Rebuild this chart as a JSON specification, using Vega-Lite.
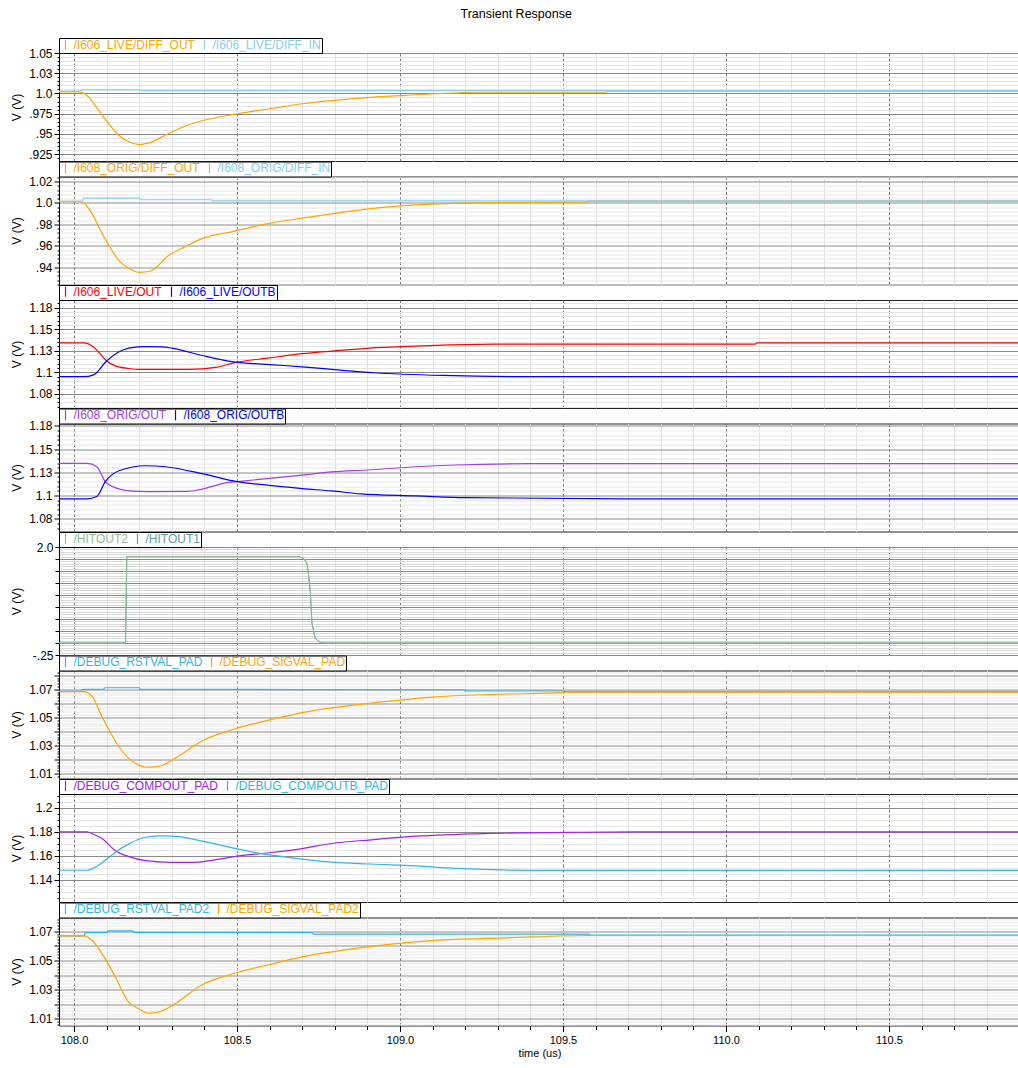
{
  "$schema": "https://vega.github.io/schema/vega-lite/v6.json",
  "padding": {"left": 9, "top": 7, "right": 0, "bottom": 2},
  "background": "white",
  "title": {"text": "Transient Response", "fontSize": 12.5, "fontWeight": "normal", "font": "Liberation Sans", "offset": 17, "anchor": "middle", "color": "#000"},
  "config": {
    "view": {"stroke": "#222", "strokeWidth": 1},
    "font": "Liberation Sans",
    "axis": {"labelFont": "Liberation Sans", "titleFont": "Liberation Sans", "labelFontSize": 12, "titleFontSize": 12, "titleFontWeight": "normal", "labelColor": "#000", "titleColor": "#000", "tickColor": "#000", "domainColor": "#000", "labelOverlap": false, "labelFlush": false, "gridOpacity": 1, "gridWidth": 1},
    "axisY": {"minExtent": 36, "maxExtent": 36, "titlePadding": 0, "labelPadding": 2, "domainWidth": 1},
    "legend": {"orient": "top", "direction": "horizontal", "offset": 0, "padding": 0.5, "fillColor": "white", "strokeColor": "#000", "labelFont": "Liberation Sans", "labelFontSize": 12, "symbolType": "M0,-1.7L0,1.7", "symbolSize": 36, "symbolStrokeWidth": 1, "labelOffset": 2, "columnPadding": 3, "labelLimit": 300},
    "line": {"strokeWidth": 1.2, "interpolate": "monotone", "clip": true}
  },
  "resolve": {"scale": {"color": "independent", "x": "independent", "y": "independent"}, "legend": {"color": "independent"}},
  "bounds": "flush",
  "spacing": 15.5,
  "datasets": {
    "p1": [
      {"s": "/I606_LIVE/DIFF_OUT", "t": 107.954, "v": 1.002}, {"s": "/I606_LIVE/DIFF_OUT", "t": 108.015, "v": 1.002}, {"s": "/I606_LIVE/DIFF_OUT", "t": 108.045, "v": 0.9955}, {"s": "/I606_LIVE/DIFF_OUT", "t": 108.076, "v": 0.979}, {"s": "/I606_LIVE/DIFF_OUT", "t": 108.106, "v": 0.9627}, {"s": "/I606_LIVE/DIFF_OUT", "t": 108.137, "v": 0.9484}, {"s": "/I606_LIVE/DIFF_OUT", "t": 108.168, "v": 0.9402}, {"s": "/I606_LIVE/DIFF_OUT", "t": 108.199, "v": 0.9368}, {"s": "/I606_LIVE/DIFF_OUT", "t": 108.23, "v": 0.9389}, {"s": "/I606_LIVE/DIFF_OUT", "t": 108.29, "v": 0.9504}, {"s": "/I606_LIVE/DIFF_OUT", "t": 108.34, "v": 0.9595}, {"s": "/I606_LIVE/DIFF_OUT", "t": 108.39, "v": 0.966}, {"s": "/I606_LIVE/DIFF_OUT", "t": 108.49, "v": 0.9742}, {"s": "/I606_LIVE/DIFF_OUT", "t": 108.6, "v": 0.9811}, {"s": "/I606_LIVE/DIFF_OUT", "t": 108.7, "v": 0.9873}, {"s": "/I606_LIVE/DIFF_OUT", "t": 108.8, "v": 0.9915}, {"s": "/I606_LIVE/DIFF_OUT", "t": 108.89, "v": 0.9946}, {"s": "/I606_LIVE/DIFF_OUT", "t": 109.015, "v": 0.9976}, {"s": "/I606_LIVE/DIFF_OUT", "t": 109.107, "v": 0.9996}, {"s": "/I606_LIVE/DIFF_OUT", "t": 109.24, "v": 1.0015}, {"s": "/I606_LIVE/DIFF_OUT", "t": 109.63, "v": 1.0015}, {"s": "/I606_LIVE/DIFF_OUT", "t": 109.64, "v": 1.0027}, {"s": "/I606_LIVE/DIFF_OUT", "t": 110.902, "v": 1.0027},
      {"s": "/I606_LIVE/DIFF_IN", "t": 107.954, "v": 1.003}, {"s": "/I606_LIVE/DIFF_IN", "t": 108.02, "v": 1.003}, {"s": "/I606_LIVE/DIFF_IN", "t": 108.025, "v": 1.0045}, {"s": "/I606_LIVE/DIFF_IN", "t": 108.2, "v": 1.0045}, {"s": "/I606_LIVE/DIFF_IN", "t": 108.205, "v": 1.0035}, {"s": "/I606_LIVE/DIFF_IN", "t": 110.902, "v": 1.0035}
    ],
    "p2": [
      {"s": "/I608_ORIG/DIFF_OUT", "t": 107.954, "v": 1.0015}, {"s": "/I608_ORIG/DIFF_OUT", "t": 108.02, "v": 1.0015}, {"s": "/I608_ORIG/DIFF_OUT", "t": 108.055, "v": 0.9903}, {"s": "/I608_ORIG/DIFF_OUT", "t": 108.08, "v": 0.975}, {"s": "/I608_ORIG/DIFF_OUT", "t": 108.107, "v": 0.9605}, {"s": "/I608_ORIG/DIFF_OUT", "t": 108.137, "v": 0.9465}, {"s": "/I608_ORIG/DIFF_OUT", "t": 108.168, "v": 0.939}, {"s": "/I608_ORIG/DIFF_OUT", "t": 108.2, "v": 0.9353}, {"s": "/I608_ORIG/DIFF_OUT", "t": 108.235, "v": 0.9365}, {"s": "/I608_ORIG/DIFF_OUT", "t": 108.29, "v": 0.951}, {"s": "/I608_ORIG/DIFF_OUT", "t": 108.34, "v": 0.959}, {"s": "/I608_ORIG/DIFF_OUT", "t": 108.39, "v": 0.9665}, {"s": "/I608_ORIG/DIFF_OUT", "t": 108.49, "v": 0.9735}, {"s": "/I608_ORIG/DIFF_OUT", "t": 108.6, "v": 0.981}, {"s": "/I608_ORIG/DIFF_OUT", "t": 108.7, "v": 0.9858}, {"s": "/I608_ORIG/DIFF_OUT", "t": 108.8, "v": 0.9903}, {"s": "/I608_ORIG/DIFF_OUT", "t": 108.945, "v": 0.9958}, {"s": "/I608_ORIG/DIFF_OUT", "t": 109.1, "v": 0.9989}, {"s": "/I608_ORIG/DIFF_OUT", "t": 109.28, "v": 1.0004}, {"s": "/I608_ORIG/DIFF_OUT", "t": 109.57, "v": 1.0008}, {"s": "/I608_ORIG/DIFF_OUT", "t": 109.58, "v": 1.0017}, {"s": "/I608_ORIG/DIFF_OUT", "t": 110.902, "v": 1.0017},
      {"s": "/I608_ORIG/DIFF_IN", "t": 107.954, "v": 1.0015}, {"s": "/I608_ORIG/DIFF_IN", "t": 108.025, "v": 1.0015}, {"s": "/I608_ORIG/DIFF_IN", "t": 108.03, "v": 1.0045}, {"s": "/I608_ORIG/DIFF_IN", "t": 108.2, "v": 1.0045}, {"s": "/I608_ORIG/DIFF_IN", "t": 108.205, "v": 1.003}, {"s": "/I608_ORIG/DIFF_IN", "t": 108.42, "v": 1.003}, {"s": "/I608_ORIG/DIFF_IN", "t": 108.425, "v": 1.002}, {"s": "/I608_ORIG/DIFF_IN", "t": 110.902, "v": 1.002}
    ],
    "p3": [
      {"s": "/I606_LIVE/OUT", "t": 107.954, "v": 1.1341}, {"s": "/I606_LIVE/OUT", "t": 108.03, "v": 1.1341}, {"s": "/I606_LIVE/OUT", "t": 108.06, "v": 1.1292}, {"s": "/I606_LIVE/OUT", "t": 108.08, "v": 1.1215}, {"s": "/I606_LIVE/OUT", "t": 108.1, "v": 1.1131}, {"s": "/I606_LIVE/OUT", "t": 108.127, "v": 1.1074}, {"s": "/I606_LIVE/OUT", "t": 108.168, "v": 1.1043}, {"s": "/I606_LIVE/OUT", "t": 108.2, "v": 1.1032}, {"s": "/I606_LIVE/OUT", "t": 108.35, "v": 1.1032}, {"s": "/I606_LIVE/OUT", "t": 108.44, "v": 1.106}, {"s": "/I606_LIVE/OUT", "t": 108.49, "v": 1.1109}, {"s": "/I606_LIVE/OUT", "t": 108.6, "v": 1.1166}, {"s": "/I606_LIVE/OUT", "t": 108.7, "v": 1.1215}, {"s": "/I606_LIVE/OUT", "t": 108.79, "v": 1.1245}, {"s": "/I606_LIVE/OUT", "t": 108.945, "v": 1.1288}, {"s": "/I606_LIVE/OUT", "t": 109.107, "v": 1.1311}, {"s": "/I606_LIVE/OUT", "t": 109.29, "v": 1.1326}, {"s": "/I606_LIVE/OUT", "t": 110.09, "v": 1.1326}, {"s": "/I606_LIVE/OUT", "t": 110.095, "v": 1.1341}, {"s": "/I606_LIVE/OUT", "t": 110.902, "v": 1.1341},
      {"s": "/I606_LIVE/OUTB", "t": 107.954, "v": 1.0948}, {"s": "/I606_LIVE/OUTB", "t": 108.03, "v": 1.0948}, {"s": "/I606_LIVE/OUTB", "t": 108.06, "v": 1.097}, {"s": "/I606_LIVE/OUTB", "t": 108.1, "v": 1.1131}, {"s": "/I606_LIVE/OUTB", "t": 108.137, "v": 1.1234}, {"s": "/I606_LIVE/OUTB", "t": 108.168, "v": 1.128}, {"s": "/I606_LIVE/OUTB", "t": 108.22, "v": 1.1297}, {"s": "/I606_LIVE/OUTB", "t": 108.27, "v": 1.1295}, {"s": "/I606_LIVE/OUTB", "t": 108.3, "v": 1.128}, {"s": "/I606_LIVE/OUTB", "t": 108.39, "v": 1.1197}, {"s": "/I606_LIVE/OUTB", "t": 108.49, "v": 1.112}, {"s": "/I606_LIVE/OUTB", "t": 108.6, "v": 1.1089}, {"s": "/I606_LIVE/OUTB", "t": 108.7, "v": 1.1063}, {"s": "/I606_LIVE/OUTB", "t": 108.8, "v": 1.103}, {"s": "/I606_LIVE/OUTB", "t": 108.92, "v": 1.0994}, {"s": "/I606_LIVE/OUTB", "t": 109.13, "v": 1.0963}, {"s": "/I606_LIVE/OUTB", "t": 109.44, "v": 1.0948}, {"s": "/I606_LIVE/OUTB", "t": 110.902, "v": 1.0948}
    ],
    "p4": [
      {"s": "/I608_ORIG/OUT", "t": 107.954, "v": 1.1346}, {"s": "/I608_ORIG/OUT", "t": 108.04, "v": 1.1346}, {"s": "/I608_ORIG/OUT", "t": 108.07, "v": 1.131}, {"s": "/I608_ORIG/OUT", "t": 108.096, "v": 1.115}, {"s": "/I608_ORIG/OUT", "t": 108.13, "v": 1.108}, {"s": "/I608_ORIG/OUT", "t": 108.17, "v": 1.105}, {"s": "/I608_ORIG/OUT", "t": 108.23, "v": 1.1043}, {"s": "/I608_ORIG/OUT", "t": 108.35, "v": 1.1045}, {"s": "/I608_ORIG/OUT", "t": 108.39, "v": 1.1067}, {"s": "/I608_ORIG/OUT", "t": 108.47, "v": 1.1139}, {"s": "/I608_ORIG/OUT", "t": 108.5, "v": 1.115}, {"s": "/I608_ORIG/OUT", "t": 108.6, "v": 1.1185}, {"s": "/I608_ORIG/OUT", "t": 108.7, "v": 1.122}, {"s": "/I608_ORIG/OUT", "t": 108.79, "v": 1.1254}, {"s": "/I608_ORIG/OUT", "t": 108.9, "v": 1.1275}, {"s": "/I608_ORIG/OUT", "t": 109.05, "v": 1.131}, {"s": "/I608_ORIG/OUT", "t": 109.17, "v": 1.1329}, {"s": "/I608_ORIG/OUT", "t": 109.4, "v": 1.1343}, {"s": "/I608_ORIG/OUT", "t": 110.902, "v": 1.1343},
      {"s": "/I608_ORIG/OUTB", "t": 107.954, "v": 1.0964}, {"s": "/I608_ORIG/OUTB", "t": 108.04, "v": 1.0964}, {"s": "/I608_ORIG/OUTB", "t": 108.07, "v": 1.099}, {"s": "/I608_ORIG/OUTB", "t": 108.096, "v": 1.115}, {"s": "/I608_ORIG/OUTB", "t": 108.14, "v": 1.127}, {"s": "/I608_ORIG/OUTB", "t": 108.22, "v": 1.1321}, {"s": "/I608_ORIG/OUTB", "t": 108.28, "v": 1.131}, {"s": "/I608_ORIG/OUTB", "t": 108.4, "v": 1.123}, {"s": "/I608_ORIG/OUTB", "t": 108.5, "v": 1.115}, {"s": "/I608_ORIG/OUTB", "t": 108.6, "v": 1.111}, {"s": "/I608_ORIG/OUTB", "t": 108.7, "v": 1.1075}, {"s": "/I608_ORIG/OUTB", "t": 108.79, "v": 1.105}, {"s": "/I608_ORIG/OUTB", "t": 108.88, "v": 1.1018}, {"s": "/I608_ORIG/OUTB", "t": 109.05, "v": 1.0997}, {"s": "/I608_ORIG/OUTB", "t": 109.2, "v": 1.0978}, {"s": "/I608_ORIG/OUTB", "t": 109.7, "v": 1.0964}, {"s": "/I608_ORIG/OUTB", "t": 110.902, "v": 1.0964}
    ],
    "p5": [
      {"s": "/HITOUT1", "t": 107.954, "v": 0}, {"s": "/HITOUT1", "t": 108.155, "v": 0}, {"s": "/HITOUT1", "t": 108.158, "v": -0.02}, {"s": "/HITOUT1", "t": 108.162, "v": 1.8}, {"s": "/HITOUT1", "t": 108.69, "v": 1.8}, {"s": "/HITOUT1", "t": 108.705, "v": 1.76}, {"s": "/HITOUT1", "t": 108.715, "v": 1.645}, {"s": "/HITOUT1", "t": 108.72, "v": 1.4}, {"s": "/HITOUT1", "t": 108.725, "v": 1.06}, {"s": "/HITOUT1", "t": 108.73, "v": 0.41}, {"s": "/HITOUT1", "t": 108.74, "v": 0.1}, {"s": "/HITOUT1", "t": 108.755, "v": 0.01}, {"s": "/HITOUT1", "t": 108.77, "v": 0}, {"s": "/HITOUT1", "t": 110.902, "v": 0},
      {"s": "/HITOUT2", "t": 107.954, "v": 0}, {"s": "/HITOUT2", "t": 108.155, "v": 0}, {"s": "/HITOUT2", "t": 108.158, "v": -0.02}, {"s": "/HITOUT2", "t": 108.162, "v": 1.8}, {"s": "/HITOUT2", "t": 108.69, "v": 1.8}, {"s": "/HITOUT2", "t": 108.705, "v": 1.76}, {"s": "/HITOUT2", "t": 108.715, "v": 1.645}, {"s": "/HITOUT2", "t": 108.72, "v": 1.4}, {"s": "/HITOUT2", "t": 108.725, "v": 1.06}, {"s": "/HITOUT2", "t": 108.73, "v": 0.41}, {"s": "/HITOUT2", "t": 108.74, "v": 0.1}, {"s": "/HITOUT2", "t": 108.755, "v": 0.01}, {"s": "/HITOUT2", "t": 108.77, "v": 0}, {"s": "/HITOUT2", "t": 110.902, "v": 0}
    ],
    "p6": [
      {"s": "/DEBUG_RSTVAL_PAD", "t": 107.954, "v": 1.0685}, {"s": "/DEBUG_RSTVAL_PAD", "t": 108.02, "v": 1.0685}, {"s": "/DEBUG_RSTVAL_PAD", "t": 108.025, "v": 1.07}, {"s": "/DEBUG_RSTVAL_PAD", "t": 108.09, "v": 1.07}, {"s": "/DEBUG_RSTVAL_PAD", "t": 108.095, "v": 1.0711}, {"s": "/DEBUG_RSTVAL_PAD", "t": 108.2, "v": 1.0711}, {"s": "/DEBUG_RSTVAL_PAD", "t": 108.205, "v": 1.07}, {"s": "/DEBUG_RSTVAL_PAD", "t": 109.195, "v": 1.0697}, {"s": "/DEBUG_RSTVAL_PAD", "t": 109.2, "v": 1.0688}, {"s": "/DEBUG_RSTVAL_PAD", "t": 109.5, "v": 1.0688}, {"s": "/DEBUG_RSTVAL_PAD", "t": 109.505, "v": 1.0683}, {"s": "/DEBUG_RSTVAL_PAD", "t": 110.902, "v": 1.0683},
      {"s": "/DEBUG_SIGVAL_PAD", "t": 107.954, "v": 1.0683}, {"s": "/DEBUG_SIGVAL_PAD", "t": 108.03, "v": 1.0683}, {"s": "/DEBUG_SIGVAL_PAD", "t": 108.055, "v": 1.0651}, {"s": "/DEBUG_SIGVAL_PAD", "t": 108.086, "v": 1.0505}, {"s": "/DEBUG_SIGVAL_PAD", "t": 108.11, "v": 1.04}, {"s": "/DEBUG_SIGVAL_PAD", "t": 108.137, "v": 1.0293}, {"s": "/DEBUG_SIGVAL_PAD", "t": 108.165, "v": 1.0215}, {"s": "/DEBUG_SIGVAL_PAD", "t": 108.187, "v": 1.0175}, {"s": "/DEBUG_SIGVAL_PAD", "t": 108.22, "v": 1.0145}, {"s": "/DEBUG_SIGVAL_PAD", "t": 108.26, "v": 1.0152}, {"s": "/DEBUG_SIGVAL_PAD", "t": 108.32, "v": 1.0223}, {"s": "/DEBUG_SIGVAL_PAD", "t": 108.39, "v": 1.0329}, {"s": "/DEBUG_SIGVAL_PAD", "t": 108.49, "v": 1.0416}, {"s": "/DEBUG_SIGVAL_PAD", "t": 108.6, "v": 1.0482}, {"s": "/DEBUG_SIGVAL_PAD", "t": 108.7, "v": 1.0534}, {"s": "/DEBUG_SIGVAL_PAD", "t": 108.79, "v": 1.0568}, {"s": "/DEBUG_SIGVAL_PAD", "t": 108.945, "v": 1.061}, {"s": "/DEBUG_SIGVAL_PAD", "t": 109.1, "v": 1.0645}, {"s": "/DEBUG_SIGVAL_PAD", "t": 109.29, "v": 1.0664}, {"s": "/DEBUG_SIGVAL_PAD", "t": 109.5, "v": 1.0676}, {"s": "/DEBUG_SIGVAL_PAD", "t": 109.51, "v": 1.068}, {"s": "/DEBUG_SIGVAL_PAD", "t": 110.902, "v": 1.068}
    ],
    "p7": [
      {"s": "/DEBUG_COMPOUT_PAD", "t": 107.954, "v": 1.18}, {"s": "/DEBUG_COMPOUT_PAD", "t": 108.04, "v": 1.18}, {"s": "/DEBUG_COMPOUT_PAD", "t": 108.06, "v": 1.178}, {"s": "/DEBUG_COMPOUT_PAD", "t": 108.086, "v": 1.1745}, {"s": "/DEBUG_COMPOUT_PAD", "t": 108.127, "v": 1.1643}, {"s": "/DEBUG_COMPOUT_PAD", "t": 108.168, "v": 1.1594}, {"s": "/DEBUG_COMPOUT_PAD", "t": 108.22, "v": 1.156}, {"s": "/DEBUG_COMPOUT_PAD", "t": 108.3, "v": 1.1546}, {"s": "/DEBUG_COMPOUT_PAD", "t": 108.37, "v": 1.1546}, {"s": "/DEBUG_COMPOUT_PAD", "t": 108.44, "v": 1.157}, {"s": "/DEBUG_COMPOUT_PAD", "t": 108.5, "v": 1.1598}, {"s": "/DEBUG_COMPOUT_PAD", "t": 108.6, "v": 1.1626}, {"s": "/DEBUG_COMPOUT_PAD", "t": 108.7, "v": 1.1661}, {"s": "/DEBUG_COMPOUT_PAD", "t": 108.79, "v": 1.1703}, {"s": "/DEBUG_COMPOUT_PAD", "t": 108.92, "v": 1.1736}, {"s": "/DEBUG_COMPOUT_PAD", "t": 109.05, "v": 1.1764}, {"s": "/DEBUG_COMPOUT_PAD", "t": 109.257, "v": 1.1786}, {"s": "/DEBUG_COMPOUT_PAD", "t": 109.56, "v": 1.1797}, {"s": "/DEBUG_COMPOUT_PAD", "t": 109.8, "v": 1.18}, {"s": "/DEBUG_COMPOUT_PAD", "t": 110.902, "v": 1.18},
      {"s": "/DEBUG_COMPOUTB_PAD", "t": 107.954, "v": 1.148}, {"s": "/DEBUG_COMPOUTB_PAD", "t": 108.04, "v": 1.148}, {"s": "/DEBUG_COMPOUTB_PAD", "t": 108.065, "v": 1.1505}, {"s": "/DEBUG_COMPOUTB_PAD", "t": 108.09, "v": 1.155}, {"s": "/DEBUG_COMPOUTB_PAD", "t": 108.127, "v": 1.163}, {"s": "/DEBUG_COMPOUTB_PAD", "t": 108.168, "v": 1.17}, {"s": "/DEBUG_COMPOUTB_PAD", "t": 108.22, "v": 1.1755}, {"s": "/DEBUG_COMPOUTB_PAD", "t": 108.27, "v": 1.1766}, {"s": "/DEBUG_COMPOUTB_PAD", "t": 108.32, "v": 1.176}, {"s": "/DEBUG_COMPOUTB_PAD", "t": 108.39, "v": 1.1725}, {"s": "/DEBUG_COMPOUTB_PAD", "t": 108.49, "v": 1.1665}, {"s": "/DEBUG_COMPOUTB_PAD", "t": 108.56, "v": 1.1625}, {"s": "/DEBUG_COMPOUTB_PAD", "t": 108.65, "v": 1.159}, {"s": "/DEBUG_COMPOUTB_PAD", "t": 108.79, "v": 1.1548}, {"s": "/DEBUG_COMPOUTB_PAD", "t": 108.91, "v": 1.1532}, {"s": "/DEBUG_COMPOUTB_PAD", "t": 109.05, "v": 1.1516}, {"s": "/DEBUG_COMPOUTB_PAD", "t": 109.17, "v": 1.1496}, {"s": "/DEBUG_COMPOUTB_PAD", "t": 109.44, "v": 1.1479}, {"s": "/DEBUG_COMPOUTB_PAD", "t": 110.902, "v": 1.1479}
    ],
    "p8": [
      {"s": "/DEBUG_RSTVAL_PAD2", "t": 107.954, "v": 1.0668}, {"s": "/DEBUG_RSTVAL_PAD2", "t": 108.03, "v": 1.0668}, {"s": "/DEBUG_RSTVAL_PAD2", "t": 108.035, "v": 1.0689}, {"s": "/DEBUG_RSTVAL_PAD2", "t": 108.1, "v": 1.0689}, {"s": "/DEBUG_RSTVAL_PAD2", "t": 108.105, "v": 1.0702}, {"s": "/DEBUG_RSTVAL_PAD2", "t": 108.18, "v": 1.0702}, {"s": "/DEBUG_RSTVAL_PAD2", "t": 108.185, "v": 1.0689}, {"s": "/DEBUG_RSTVAL_PAD2", "t": 108.73, "v": 1.0689}, {"s": "/DEBUG_RSTVAL_PAD2", "t": 108.735, "v": 1.068}, {"s": "/DEBUG_RSTVAL_PAD2", "t": 109.58, "v": 1.068}, {"s": "/DEBUG_RSTVAL_PAD2", "t": 109.585, "v": 1.0672}, {"s": "/DEBUG_RSTVAL_PAD2", "t": 110.902, "v": 1.0672},
      {"s": "/DEBUG_SIGVAL_PAD2", "t": 107.954, "v": 1.0668}, {"s": "/DEBUG_SIGVAL_PAD2", "t": 108.03, "v": 1.0668}, {"s": "/DEBUG_SIGVAL_PAD2", "t": 108.055, "v": 1.0638}, {"s": "/DEBUG_SIGVAL_PAD2", "t": 108.086, "v": 1.0546}, {"s": "/DEBUG_SIGVAL_PAD2", "t": 108.127, "v": 1.0386}, {"s": "/DEBUG_SIGVAL_PAD2", "t": 108.168, "v": 1.0215}, {"s": "/DEBUG_SIGVAL_PAD2", "t": 108.19, "v": 1.018}, {"s": "/DEBUG_SIGVAL_PAD2", "t": 108.23, "v": 1.014}, {"s": "/DEBUG_SIGVAL_PAD2", "t": 108.26, "v": 1.0147}, {"s": "/DEBUG_SIGVAL_PAD2", "t": 108.31, "v": 1.0204}, {"s": "/DEBUG_SIGVAL_PAD2", "t": 108.39, "v": 1.033}, {"s": "/DEBUG_SIGVAL_PAD2", "t": 108.49, "v": 1.041}, {"s": "/DEBUG_SIGVAL_PAD2", "t": 108.6, "v": 1.0472}, {"s": "/DEBUG_SIGVAL_PAD2", "t": 108.7, "v": 1.0524}, {"s": "/DEBUG_SIGVAL_PAD2", "t": 108.79, "v": 1.0558}, {"s": "/DEBUG_SIGVAL_PAD2", "t": 108.945, "v": 1.0604}, {"s": "/DEBUG_SIGVAL_PAD2", "t": 109.12, "v": 1.0638}, {"s": "/DEBUG_SIGVAL_PAD2", "t": 109.33, "v": 1.0654}, {"s": "/DEBUG_SIGVAL_PAD2", "t": 109.58, "v": 1.067}, {"s": "/DEBUG_SIGVAL_PAD2", "t": 110.902, "v": 1.067}
    ]
  },
  "vconcat": [
    {
      "width": 961, "height": 108, "data": {"name": "p1"}, "mark": "line",
      "encoding": {
        "x": {"field": "t", "type": "quantitative", "scale": {"domain": [107.954, 110.902], "nice": false, "zero": false}, "axis": {"values": [108,108.1,108.2,108.3,108.4,108.5,108.6,108.7,108.8,108.9,109,109.1,109.2,109.3,109.4,109.5,109.6,109.7,109.8,109.9,110,110.1,110.2,110.3,110.4,110.5,110.6,110.7,110.8,110.9], "grid": true, "gridColor": {"condition": {"test": "abs(datum.value*2-round(datum.value*2))<1e-6", "value": "#7a7a7a"}, "value": "#e2e2e2"}, "gridDash": {"condition": {"test": "abs(datum.value*2-round(datum.value*2))<1e-6", "value": [3, 2]}, "value": []}, "domain": false, "ticks": false, "labels": false, "title": null}},
        "y": {"field": "v", "type": "quantitative", "scale": {"domain": [0.9165, 1.05], "nice": false, "zero": false}, "axis": {"title": "V (V)", "values": [0.92,0.925,0.93,0.935,0.94,0.945,0.95,0.955,0.96,0.965,0.97,0.975,0.98,0.985,0.99,0.995,1.0,1.005,1.01,1.015,1.02,1.025,1.03,1.035,1.04,1.045,1.05], "gridColor": {"condition": {"test": "abs(datum.value*40-round(datum.value*40))<1e-6", "value": "#8a8a8a"}, "value": "#e6e6e6"}, "tickSize": {"condition": {"test": "abs(datum.value*40-round(datum.value*40))<1e-6", "value": 5}, "value": 2}, "labelExpr": "round(datum.value*1000)==925?'.925':round(datum.value*1000)==950?'.95':round(datum.value*1000)==975?'.975':round(datum.value*1000)==1000?'1.0':round(datum.value*1000)==1025?'1.03':round(datum.value*1000)==1050?'1.05':''"}},
        "color": {"field": "s", "type": "nominal", "scale": {"domain": ["/I606_LIVE/DIFF_OUT", "/I606_LIVE/DIFF_IN"], "range": ["#FFA500", "#87CEEB"]}, "legend": {"title": null, "labelColor": {"expr": "datum.value == '/I606_LIVE/DIFF_OUT' ? '#FFA500' : '#87CEEB'"}}}
      }
    },
    {
      "width": 961, "height": 108, "data": {"name": "p2"}, "mark": "line",
      "encoding": {
        "x": {"field": "t", "type": "quantitative", "scale": {"domain": [107.954, 110.902], "nice": false, "zero": false}, "axis": {"values": [108,108.1,108.2,108.3,108.4,108.5,108.6,108.7,108.8,108.9,109,109.1,109.2,109.3,109.4,109.5,109.6,109.7,109.8,109.9,110,110.1,110.2,110.3,110.4,110.5,110.6,110.7,110.8,110.9], "grid": true, "gridColor": {"condition": {"test": "abs(datum.value*2-round(datum.value*2))<1e-6", "value": "#7a7a7a"}, "value": "#e2e2e2"}, "gridDash": {"condition": {"test": "abs(datum.value*2-round(datum.value*2))<1e-6", "value": [3, 2]}, "value": []}, "domain": false, "ticks": false, "labels": false, "title": null}},
        "y": {"field": "v", "type": "quantitative", "scale": {"domain": [0.9239, 1.0247], "nice": false, "zero": false}, "axis": {"title": "V (V)", "values": [0.924,0.928,0.932,0.936,0.94,0.944,0.948,0.952,0.956,0.96,0.964,0.968,0.972,0.976,0.98,0.984,0.988,0.992,0.996,1.0,1.004,1.008,1.012,1.016,1.02,1.024], "gridColor": {"condition": {"test": "abs(datum.value*50-round(datum.value*50))<1e-6", "value": "#8a8a8a"}, "value": "#e6e6e6"}, "tickSize": {"condition": {"test": "abs(datum.value*50-round(datum.value*50))<1e-6", "value": 5}, "value": 2}, "labelExpr": "round(datum.value*1000)==940?'.94':round(datum.value*1000)==960?'.96':round(datum.value*1000)==980?'.98':round(datum.value*1000)==1000?'1.0':round(datum.value*1000)==1020?'1.02':''"}},
        "color": {"field": "s", "type": "nominal", "scale": {"domain": ["/I608_ORIG/DIFF_OUT", "/I608_ORIG/DIFF_IN"], "range": ["#FFA500", "#87CEEB"]}, "legend": {"title": null, "labelColor": {"expr": "datum.value == '/I608_ORIG/DIFF_OUT' ? '#FFA500' : '#87CEEB'"}}}
      }
    },
    {
      "width": 961, "height": 108, "data": {"name": "p3"}, "mark": "line",
      "encoding": {
        "x": {"field": "t", "type": "quantitative", "scale": {"domain": [107.954, 110.902], "nice": false, "zero": false}, "axis": {"values": [108,108.1,108.2,108.3,108.4,108.5,108.6,108.7,108.8,108.9,109,109.1,109.2,109.3,109.4,109.5,109.6,109.7,109.8,109.9,110,110.1,110.2,110.3,110.4,110.5,110.6,110.7,110.8,110.9], "grid": true, "gridColor": {"condition": {"test": "abs(datum.value*2-round(datum.value*2))<1e-6", "value": "#7a7a7a"}, "value": "#e2e2e2"}, "gridDash": {"condition": {"test": "abs(datum.value*2-round(datum.value*2))<1e-6", "value": [3, 2]}, "value": []}, "domain": false, "ticks": false, "labels": false, "title": null}},
        "y": {"field": "v", "type": "quantitative", "scale": {"domain": [1.0585, 1.1838], "nice": false, "zero": false}, "axis": {"title": "V (V)", "values": [1.06,1.065,1.07,1.075,1.08,1.085,1.09,1.095,1.1,1.105,1.11,1.115,1.12,1.125,1.13,1.135,1.14,1.145,1.15,1.155,1.16,1.165,1.17,1.175,1.18], "gridColor": {"condition": {"test": "abs(datum.value*40-round(datum.value*40))<1e-6", "value": "#8a8a8a"}, "value": "#e6e6e6"}, "tickSize": {"condition": {"test": "abs(datum.value*40-round(datum.value*40))<1e-6", "value": 5}, "value": 2}, "labelExpr": "round(datum.value*1000)==1075?'1.08':round(datum.value*1000)==1100?'1.1':round(datum.value*1000)==1125?'1.13':round(datum.value*1000)==1150?'1.15':round(datum.value*1000)==1175?'1.18':''"}},
        "color": {"field": "s", "type": "nominal", "scale": {"domain": ["/I606_LIVE/OUT", "/I606_LIVE/OUTB"], "range": ["#FF0000", "#0000FF"]}, "legend": {"title": null, "labelColor": {"expr": "datum.value == '/I606_LIVE/OUT' ? '#FF0000' : '#0000FF'"}}}
      }
    },
    {
      "width": 961, "height": 108, "data": {"name": "p4"}, "mark": "line",
      "encoding": {
        "x": {"field": "t", "type": "quantitative", "scale": {"domain": [107.954, 110.902], "nice": false, "zero": false}, "axis": {"values": [108,108.1,108.2,108.3,108.4,108.5,108.6,108.7,108.8,108.9,109,109.1,109.2,109.3,109.4,109.5,109.6,109.7,109.8,109.9,110,110.1,110.2,110.3,110.4,110.5,110.6,110.7,110.8,110.9], "grid": true, "gridColor": {"condition": {"test": "abs(datum.value*2-round(datum.value*2))<1e-6", "value": "#7a7a7a"}, "value": "#e2e2e2"}, "gridDash": {"condition": {"test": "abs(datum.value*2-round(datum.value*2))<1e-6", "value": [3, 2]}, "value": []}, "domain": false, "ticks": false, "labels": false, "title": null}},
        "y": {"field": "v", "type": "quantitative", "scale": {"domain": [1.0614, 1.1775], "nice": false, "zero": false}, "axis": {"title": "V (V)", "values": [1.065,1.07,1.075,1.08,1.085,1.09,1.095,1.1,1.105,1.11,1.115,1.12,1.125,1.13,1.135,1.14,1.145,1.15,1.155,1.16,1.165,1.17,1.175], "gridColor": {"condition": {"test": "abs(datum.value*40-round(datum.value*40))<1e-6", "value": "#8a8a8a"}, "value": "#e6e6e6"}, "tickSize": {"condition": {"test": "abs(datum.value*40-round(datum.value*40))<1e-6", "value": 5}, "value": 2}, "labelExpr": "round(datum.value*1000)==1075?'1.08':round(datum.value*1000)==1100?'1.1':round(datum.value*1000)==1125?'1.13':round(datum.value*1000)==1150?'1.15':round(datum.value*1000)==1175?'1.18':''"}},
        "color": {"field": "s", "type": "nominal", "scale": {"domain": ["/I608_ORIG/OUT", "/I608_ORIG/OUTB"], "range": ["#A040E8", "#0000FF"]}, "legend": {"title": null, "labelColor": {"expr": "datum.value == '/I608_ORIG/OUT' ? '#A040E8' : '#0000FF'"}}}
      }
    },
    {
      "width": 961, "height": 108, "data": {"name": "p5"}, "mark": {"type": "line", "interpolate": "linear", "strokeWidth": 1},
      "encoding": {
        "x": {"field": "t", "type": "quantitative", "scale": {"domain": [107.954, 110.902], "nice": false, "zero": false}, "axis": {"values": [108,108.1,108.2,108.3,108.4,108.5,108.6,108.7,108.8,108.9,109,109.1,109.2,109.3,109.4,109.5,109.6,109.7,109.8,109.9,110,110.1,110.2,110.3,110.4,110.5,110.6,110.7,110.8,110.9], "grid": true, "gridColor": {"condition": {"test": "abs(datum.value*2-round(datum.value*2))<1e-6", "value": "#7a7a7a"}, "value": "#e2e2e2"}, "gridDash": {"condition": {"test": "abs(datum.value*2-round(datum.value*2))<1e-6", "value": [3, 2]}, "value": []}, "domain": false, "ticks": false, "labels": false, "title": null}},
        "y": {"field": "v", "type": "quantitative", "scale": {"domain": [-0.25, 2.0], "nice": false, "zero": false}, "axis": {"title": "V (V)", "values": [-0.25,-0.2,-0.15,-0.1,-0.05,0,0.05,0.1,0.15,0.2,0.25,0.3,0.35,0.4,0.45,0.5,0.55,0.6,0.65,0.7,0.75,0.8,0.85,0.9,0.95,1,1.05,1.1,1.15,1.2,1.25,1.3,1.35,1.4,1.45,1.5,1.55,1.6,1.65,1.7,1.75,1.8,1.85,1.9,1.95,2], "gridColor": {"condition": {"test": "abs(datum.value*4-round(datum.value*4))<1e-6", "value": "#8a8a8a"}, "value": "#d9d9d9"}, "tickSize": {"condition": {"test": "abs(datum.value*4-round(datum.value*4))<1e-6", "value": 4}, "value": 0}, "labelExpr": "round(datum.value*1000)==2000?'2.0':round(datum.value*1000)==-250?'-.25':''"}},
        "color": {"field": "s", "type": "nominal", "scale": {"domain": ["/HITOUT2", "/HITOUT1"], "range": ["#8FBC8F", "#5F9EA0"]}, "legend": {"title": null, "labelColor": {"expr": "datum.value == '/HITOUT2' ? '#8FBC8F' : '#5F9EA0'"}}}
      }
    },
    {
      "width": 961, "height": 108, "data": {"name": "p6"}, "mark": "line",
      "encoding": {
        "x": {"field": "t", "type": "quantitative", "scale": {"domain": [107.954, 110.902], "nice": false, "zero": false}, "axis": {"values": [108,108.1,108.2,108.3,108.4,108.5,108.6,108.7,108.8,108.9,109,109.1,109.2,109.3,109.4,109.5,109.6,109.7,109.8,109.9,110,110.1,110.2,110.3,110.4,110.5,110.6,110.7,110.8,110.9], "grid": true, "gridColor": {"condition": {"test": "abs(datum.value*2-round(datum.value*2))<1e-6", "value": "#7a7a7a"}, "value": "#e2e2e2"}, "gridDash": {"condition": {"test": "abs(datum.value*2-round(datum.value*2))<1e-6", "value": [3, 2]}, "value": []}, "domain": false, "ticks": false, "labels": false, "title": null}},
        "y": {"field": "v", "type": "quantitative", "scale": {"domain": [1.0065, 1.0834], "nice": false, "zero": false}, "axis": {"title": "V (V)", "values": [1.008,1.01,1.012,1.014,1.016,1.018,1.02,1.022,1.024,1.026,1.028,1.03,1.032,1.034,1.036,1.038,1.04,1.042,1.044,1.046,1.048,1.05,1.052,1.054,1.056,1.058,1.06,1.062,1.064,1.066,1.068,1.07,1.072,1.074,1.076,1.078,1.08,1.082], "gridColor": {"condition": {"test": "abs(datum.value*100-round(datum.value*100))<1e-6", "value": "#8a8a8a"}, "value": "#e6e6e6"}, "tickSize": {"condition": {"test": "abs(datum.value*100-round(datum.value*100))<1e-6", "value": 5}, "value": 2}, "labelExpr": "round(datum.value*1000)==1010?'1.01':round(datum.value*1000)==1030?'1.03':round(datum.value*1000)==1050?'1.05':round(datum.value*1000)==1070?'1.07':''"}},
        "color": {"field": "s", "type": "nominal", "scale": {"domain": ["/DEBUG_RSTVAL_PAD", "/DEBUG_SIGVAL_PAD"], "range": ["#33B5E5", "#FFA500"]}, "legend": {"title": null, "labelColor": {"expr": "datum.value == '/DEBUG_RSTVAL_PAD' ? '#33B5E5' : '#FFA500'"}}}
      }
    },
    {
      "width": 961, "height": 108, "data": {"name": "p7"}, "mark": "line",
      "encoding": {
        "x": {"field": "t", "type": "quantitative", "scale": {"domain": [107.954, 110.902], "nice": false, "zero": false}, "axis": {"values": [108,108.1,108.2,108.3,108.4,108.5,108.6,108.7,108.8,108.9,109,109.1,109.2,109.3,109.4,109.5,109.6,109.7,109.8,109.9,110,110.1,110.2,110.3,110.4,110.5,110.6,110.7,110.8,110.9], "grid": true, "gridColor": {"condition": {"test": "abs(datum.value*2-round(datum.value*2))<1e-6", "value": "#7a7a7a"}, "value": "#e2e2e2"}, "gridDash": {"condition": {"test": "abs(datum.value*2-round(datum.value*2))<1e-6", "value": [3, 2]}, "value": []}, "domain": false, "ticks": false, "labels": false, "title": null}},
        "y": {"field": "v", "type": "quantitative", "scale": {"domain": [1.1215, 1.2116], "nice": false, "zero": false}, "axis": {"title": "V (V)", "values": [1.125,1.13,1.135,1.14,1.145,1.15,1.155,1.16,1.165,1.17,1.175,1.18,1.185,1.19,1.195,1.2,1.205,1.21], "gridColor": {"condition": {"test": "abs(datum.value*50-round(datum.value*50))<1e-6", "value": "#8a8a8a"}, "value": "#e6e6e6"}, "tickSize": {"condition": {"test": "abs(datum.value*50-round(datum.value*50))<1e-6", "value": 5}, "value": 2}, "labelExpr": "round(datum.value*1000)==1140?'1.14':round(datum.value*1000)==1160?'1.16':round(datum.value*1000)==1180?'1.18':round(datum.value*1000)==1200?'1.2':''"}},
        "color": {"field": "s", "type": "nominal", "scale": {"domain": ["/DEBUG_COMPOUT_PAD", "/DEBUG_COMPOUTB_PAD"], "range": ["#A020F0", "#33B5E5"]}, "legend": {"title": null, "labelColor": {"expr": "datum.value == '/DEBUG_COMPOUT_PAD' ? '#A020F0' : '#33B5E5'"}}}
      }
    },
    {
      "width": 961, "height": 108, "data": {"name": "p8"}, "mark": "line",
      "encoding": {
        "x": {"field": "t", "type": "quantitative", "scale": {"domain": [107.954, 110.902], "nice": false, "zero": false}, "axis": {"values": [108,108.1,108.2,108.3,108.4,108.5,108.6,108.7,108.8,108.9,109,109.1,109.2,109.3,109.4,109.5,109.6,109.7,109.8,109.9,110,110.1,110.2,110.3,110.4,110.5,110.6,110.7,110.8,110.9], "grid": true, "gridColor": {"condition": {"test": "abs(datum.value*2-round(datum.value*2))<1e-6", "value": "#7a7a7a"}, "value": "#e2e2e2"}, "gridDash": {"condition": {"test": "abs(datum.value*2-round(datum.value*2))<1e-6", "value": [3, 2]}, "value": []}, "domain": false, "ticks": true, "tickSize": {"condition": {"test": "abs(datum.value*2-round(datum.value*2))<1e-6", "value": 6}, "value": 4}, "labels": true, "labelFontSize": 11, "labelPadding": 3, "labelExpr": "abs(datum.value*2-round(datum.value*2))<1e-6 ? format(datum.value, '.1f') : ''", "title": "time (us)", "titleFontSize": 11, "titlePadding": 2}},
        "y": {"field": "v", "type": "quantitative", "scale": {"domain": [1.0055, 1.0793], "nice": false, "zero": false}, "axis": {"title": "V (V)", "values": [1.006,1.008,1.01,1.012,1.014,1.016,1.018,1.02,1.022,1.024,1.026,1.028,1.03,1.032,1.034,1.036,1.038,1.04,1.042,1.044,1.046,1.048,1.05,1.052,1.054,1.056,1.058,1.06,1.062,1.064,1.066,1.068,1.07,1.072,1.074,1.076,1.078], "gridColor": {"condition": {"test": "abs(datum.value*100-round(datum.value*100))<1e-6", "value": "#8a8a8a"}, "value": "#e6e6e6"}, "tickSize": {"condition": {"test": "abs(datum.value*100-round(datum.value*100))<1e-6", "value": 5}, "value": 2}, "labelExpr": "round(datum.value*1000)==1010?'1.01':round(datum.value*1000)==1030?'1.03':round(datum.value*1000)==1050?'1.05':round(datum.value*1000)==1070?'1.07':''"}},
        "color": {"field": "s", "type": "nominal", "scale": {"domain": ["/DEBUG_RSTVAL_PAD2", "/DEBUG_SIGVAL_PAD2"], "range": ["#33B5E5", "#FFA500"]}, "legend": {"title": null, "labelColor": {"expr": "datum.value == '/DEBUG_RSTVAL_PAD2' ? '#33B5E5' : '#FFA500'"}}}
      }
    }
  ]
}
